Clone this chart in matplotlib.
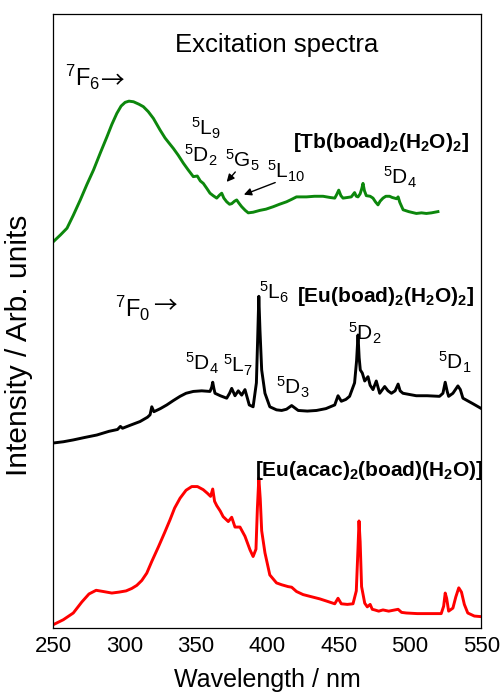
import matplotlib
matplotlib.use('Agg')
import matplotlib.pyplot as plt

plt.rcParams['font.family'] = ['Liberation Sans', 'DejaVu Sans']
plt.rcParams['mathtext.default'] = 'regular'

# spectra (already stacked)
wl_tb = [250, 255, 259.6, 264, 268.9, 273.5, 278.2, 283, 287.6, 291, 294.5, 297.5, 300.3, 303, 306.2,
         310, 313.1, 316.5, 320.1, 324.8, 328.3, 331, 334.1, 337.5, 341.1, 344.5, 348.1, 350.9, 353,
         355.1, 357.5, 359.8, 362, 364.5, 366.5, 368, 369.5, 371.5, 373.5, 375, 377, 378.5, 380, 382,
         384.5, 386.6, 390, 394.7, 399, 404.1, 408.5, 413.4, 417, 420.4, 427.4, 433, 439, 444, 447.2,
         448.6, 450, 451.5, 453, 456, 458.8, 461.1, 462.3, 463.5, 465, 466.2, 467, 468, 469.3, 472,
         474, 475.7, 477.5, 479, 481, 483, 485.6, 487.5, 489.1, 490.5, 491.6, 492.8, 495.1, 499,
         504.4, 508, 511.4, 515, 519.5]
int_tb = [62.9, 64.0, 65.1, 67.2, 69.7, 72.2, 74.6, 77.4, 80.0, 82.0, 83.8, 85.0, 85.6, 85.8, 85.7,
          85.3, 84.9, 84.1, 83.0, 81.1, 79.8, 79.0, 78.1, 77.0, 75.7, 74.6, 73.5, 73.6, 72.8,
          72.4, 71.6, 70.8, 70.4, 70.0, 70.5, 70.8, 70.0, 69.4, 69.0, 69.1, 69.5, 69.7, 69.2, 68.6,
          68.0, 67.6, 67.7, 68.0, 68.2, 68.6, 69.0, 69.4, 69.8, 70.2, 70.2, 70.3, 70.3, 70.1, 70.0,
          70.6, 71.3, 70.4, 70.0, 70.1, 70.2, 70.9, 70.3, 70.2, 70.7, 71.6, 72.4, 71.2, 70.4, 70.3,
          70.0, 69.4, 68.9, 69.5, 70.0, 70.3, 70.3, 70.1, 70.0, 69.9, 70.2, 69.3, 68.1, 67.8,
          67.5, 67.6, 67.5, 67.6, 67.8]

wl_eu = [250, 257, 264, 272, 280.5, 289, 295, 297, 298.5, 304, 310.8, 316, 317.8, 319, 320.5, 325,
         329.5, 334, 338.8, 343, 348.1, 354, 359.8, 361, 361.7, 362.5, 363.3, 367, 371.5, 373.5, 375,
         377.3, 379.6, 382, 384.3, 387.3, 390, 392.3, 393.3, 394, 394.8, 396, 398.3, 401.7, 406.4,
         410, 413.4, 417, 421.6, 428, 434.4, 441, 447.2, 449.5, 451.8, 455, 457.6, 461.1, 462.5,
         463.5, 464.3, 465.1, 466.5, 468.2, 470.5, 472, 474, 476.3, 478.7, 482.2, 484.5, 486.9,
         489.5, 491.6, 493, 495, 504.3, 512, 520.6, 523, 524.6, 526, 527, 530, 533.5, 535.2, 537,
         544, 550]
int_eu = [30.1, 30.3, 30.6, 31.0, 31.4, 32.0, 32.3, 32.8, 32.5, 33.0, 33.6, 34.3, 34.7, 36.0, 35.2, 35.7,
          36.3, 37.0, 37.7, 38.2, 38.5, 38.6, 38.5, 39.2, 40.0, 39.0, 38.2, 37.8, 37.4, 38.2, 39.0,
          37.8, 38.6, 37.9, 38.8, 36.3, 36.0, 39.9, 48.0, 54.0, 48.5, 42.0, 38.2, 36.0, 35.5,
          35.4, 35.6, 36.2, 35.4, 35.3, 35.4, 35.7, 36.3, 37.8, 36.9, 37.2, 37.7, 39.9, 43.5,
          47.7, 44.0, 42.0, 41.5, 40.2, 40.9, 39.5, 38.8, 40.2, 38.2, 39.3, 38.6, 38.2,
          38.6, 39.7, 38.6, 38.2, 37.8, 37.8, 37.7, 38.2, 40.0, 38.5, 37.7, 38.2, 39.4, 38.8, 37.4,
          36.5, 35.7]

wl_acac = [250, 257, 264, 270, 275, 280, 285, 291, 296, 301, 305, 308.5, 312, 315.5, 319, 323.7, 328,
           331.8, 335, 338.8, 343, 347, 351, 355, 358, 360.2, 361.7, 363, 364.5, 367, 369, 372.6, 375,
           377.3, 380.8, 384.3, 387.8, 390, 392, 393, 394, 395, 396, 398.3, 401.7, 406.4, 410, 414.5,
           417, 420.4, 425, 430, 436.7, 442, 447.2, 449.5, 451.8, 456, 460, 462.3, 463.5, 464.2, 465,
           466, 468.2, 470, 472, 473.5, 475.2, 478, 481, 485, 491.6, 494, 497.3, 505, 515, 521.8,
           523.5, 524.6, 525.6, 527, 530, 532, 534.1, 536, 538, 540.4, 545, 550]
int_acac = [0.5, 1.3, 2.4, 4.2, 5.5, 6.1, 5.9, 5.65, 5.8, 6.0, 6.4, 6.9, 7.7, 8.9, 10.8, 13.2, 15.5,
            17.6, 19.5, 21.1, 22.4, 23.0, 23.0, 22.5, 21.9, 21.4, 22.6, 20.6, 19.9, 19.0, 18.1, 17.3, 18.0,
            16.4, 16.4, 14.9, 12.7, 11.6, 12.8, 19.5, 24.4, 21.0, 15.8, 12.2, 8.6, 7.3, 7.0, 6.7,
            6.6, 5.9, 5.4, 5.1, 4.7, 4.3, 3.9, 4.8, 3.9, 3.8, 3.9, 6.0, 13.0, 17.4, 14.0,
            6.7, 4.0, 3.4, 3.8, 3.0, 2.9, 2.7, 2.9, 2.7, 3.0, 2.5, 2.4, 2.3, 2.3, 2.3,
            3.5, 5.65, 4.8, 2.7, 3.2, 5.0, 6.5, 5.8, 3.8, 2.4, 1.9, 1.8]

xticks = [250, 300, 350, 400, 450, 500, 550]

fig = plt.figure(figsize=(5.01, 6.93), dpi=100)
ax = fig.add_axes([0.1064, 0.0942, 0.8546, 0.8856])

ax.plot(wl_tb, int_tb, color='#0c870c', lw=2.1)
ax.plot(wl_eu, int_eu, color='black', lw=2.1)
ax.plot(wl_acac, int_acac, color='red', lw=2.1)

ax.set_xlim(250, 550)
ax.set_ylim(0, 100)
ax.set_xticks(xticks)
ax.set_yticks([])
ax.tick_params(axis='x', length=0, pad=6, labelsize=16)
for s in ax.spines.values():
    s.set_linewidth(0.9)

ax.set_xlabel('Wavelength / nm', fontsize=18)
ax.xaxis.set_label_coords(0.5, -0.066)
ax.set_ylabel('Intensity / Arb. units', fontsize=21.5)
ax.yaxis.set_label_coords(-0.047, 0.46)

ax.text(406.4, 94.9, 'Excitation spectra', fontsize=18.5, ha='center', va='center')

arrow_font = ['Noto Sans CJK JP', 'DejaVu Sans']

# Tb
ax.text(258.2, 89.7, r'$^7$F$_6$', fontsize=17, ha='left', va='center')
ax.text(283.0, 88.9, '→', fontsize=17, family=arrow_font, ha='left', va='center')
ax.text(417.6, 79.0, r'[Tb(boad)$_2$(H$_2$O)$_2$]', fontsize=15, fontweight='bold', ha='left', va='center')
ax.text(346.8, 81.4, r'$^5$L$_9$', fontsize=15, ha='left', va='center')
ax.text(341.4, 77.0, r'$^5$D$_2$', fontsize=15, ha='left', va='center')
ax.text(370.0, 76.1, r'$^5$G$_5$', fontsize=15, ha='left', va='center')
ax.text(399.9, 74.4, r'$^5$L$_{10}$', fontsize=15, ha='left', va='center')
ax.text(480.8, 73.4, r'$^5$D$_4$', fontsize=15, ha='left', va='center')
ax.annotate('', xy=(370.2, 72.3), xytext=(378.8, 74.6),
            arrowprops=dict(arrowstyle='-|>', color='black', lw=1.0, mutation_scale=11))
ax.annotate('', xy=(381.7, 70.4), xytext=(407.3, 72.7),
            arrowprops=dict(arrowstyle='-|>', color='black', lw=1.0, mutation_scale=11))

# Eu(boad)
ax.text(293.1, 52.0, r'$^7$F$_0$', fontsize=17, ha='left', va='center')
ax.text(319.8, 52.3, '→', fontsize=17, family=arrow_font, ha='left', va='center')
ax.text(393.8, 54.7, r'$^5$L$_6$', fontsize=15, ha='left', va='center')
ax.text(420.6, 53.9, r'[Eu(boad)$_2$(H$_2$O)$_2$]', fontsize=15, fontweight='bold', ha='left', va='center')
ax.text(456.3, 47.9, r'$^5$D$_2$', fontsize=15, ha='left', va='center')
ax.text(342.1, 43.0, r'$^5$D$_4$', fontsize=15, ha='left', va='center')
ax.text(368.9, 42.7, r'$^5$L$_7$', fontsize=15, ha='left', va='center')
ax.text(406.2, 39.1, r'$^5$D$_3$', fontsize=15, ha='left', va='center')
ax.text(519.2, 43.3, r'$^5$D$_1$', fontsize=15, ha='left', va='center')

# Eu(acac)
ax.text(391.0, 25.6, r'[Eu(acac)$_2$(boad)(H$_2$O)]', fontsize=15, fontweight='bold', ha='left', va='center')

fig.savefig('out.png', dpi=100)
